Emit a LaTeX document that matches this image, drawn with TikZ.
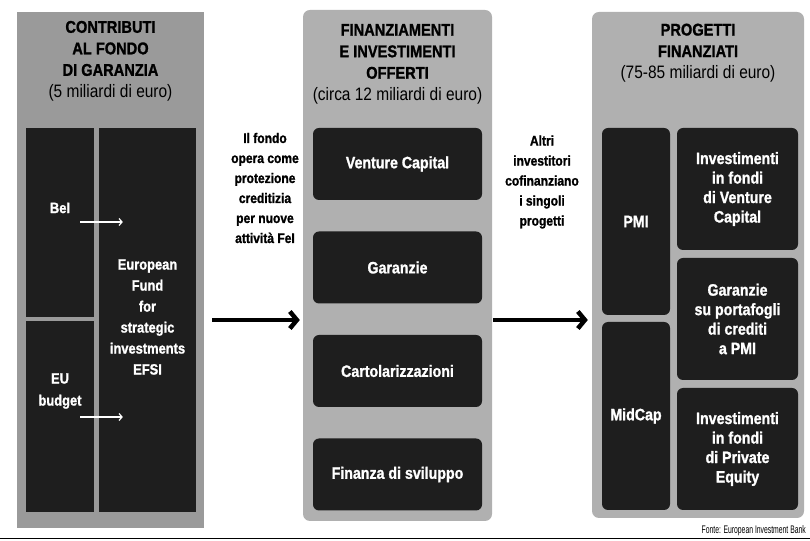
\documentclass[tikz,border=0pt]{standalone}
\usepackage{fontspec}
\setmainfont{Liberation Sans}[FakeStretch=0.86, BoldFeatures={FakeBold=1.2}]
\newfontfamily\narrowfont{Liberation Sans}[FakeStretch=0.62]
\usetikzlibrary{arrows.meta,positioning}

\definecolor{panelgray}{HTML}{B0B0B0}
\definecolor{fundgray}{HTML}{9A9A9A}
\definecolor{boxblack}{HTML}{1E1E1E}

\tikzset{
  panel/.style={fill=panelgray, rounded corners=7pt, inner sep=0pt},
  fundpanel/.style={fill=fundgray, inner sep=0pt},
  darkbox/.style={fill=boxblack, rounded corners=6pt, inner sep=0pt, text=white, align=center,
    font=\bfseries\fontsize{16.5}{19.5}\selectfont},
  fundbox/.style={fill=boxblack, inner sep=0pt},
  fundtext/.style={text=white, align=center, inner sep=0pt, font=\bfseries\fontsize{15}{21}\selectfont},
  heading/.style={align=center, inner sep=0pt, font=\fontsize{17}{21.5}\selectfont},
  note/.style={align=center, inner sep=0pt, font=\bfseries\fontsize{14}{20}\selectfont},
  bigarrow/.style={line width=4.5pt, -{Straight Barb[length=7pt,width=17pt]}},
  smallarrow/.style={white, line width=1.2pt, -{Straight Barb[length=3pt,width=7pt]}}
}
\newcommand{\subhead}[1]{{\fontsize{18}{24}\selectfont #1}}

\begin{document}
\begin{tikzpicture}[x=1pt,y=1pt]
    \useasboundingbox (0,0) rectangle (810,540);

    % Contributi al fondo
    \node[fundpanel, minimum width=187pt, minimum height=516pt] (fund) at (110.5,270) {};
    \node[heading] (fundtitle) at (110.5,479)
      {\textbf{CONTRIBUTI}\\\textbf{AL FONDO}\\\textbf{DI GARANZIA}\\\subhead{(5 miliardi di euro)}};
    \node[fundbox, minimum width=68pt, minimum height=189pt] (bei) at (60,317.5) {};
    \node[fundbox, minimum width=68pt, minimum height=191pt] (eub) at (60,123.5) {};
    \node[fundbox, minimum width=97pt, minimum height=384pt] (efsi) at (147.5,220) {};
    \node[fundtext] (beitext) at (60,332) {BeI};
    \node[fundtext, font=\bfseries\fontsize{15}{22}\selectfont] (eubtext) at (60,149) {EU\\budget};
    \node[fundtext] (efsitext) at (147.5,223)
      {European\\Fund\\for\\strategic\\investments\\EFSI};

    % frecce interne
    \coordinate (beiarr) at (80,318);
    \coordinate (eubarr) at (80,123);
    \draw[smallarrow] (beiarr) -- ([xshift=24pt]efsi.west |- beiarr);
    \draw[smallarrow] (eubarr) -- ([xshift=24pt]efsi.west |- eubarr);

    % Finanziamenti e investimenti
    \node[panel, minimum width=189pt, minimum height=511pt] (mid) at (397.5,274.5) {};
    \node[heading] (midtitle) at (397.5,476)
      {\textbf{FINANZIAMENTI}\\\textbf{E INVESTIMENTI}\\\textbf{OFFERTI}\\\subhead{(circa 12 miliardi di euro)}};
    \node[darkbox, minimum width=169pt, minimum height=72pt] (venture) at (397.5,376) {Venture Capital};
    \node[darkbox, minimum width=169pt, minimum height=72pt] (garanzie) at (397.5,272.5) {Garanzie};
    \node[darkbox, minimum width=169pt, minimum height=72pt] (cartol) at (397.5,169) {Cartolarizzazioni};
    \node[darkbox, minimum width=169pt, minimum height=72pt] (sviluppo) at (397.5,65.5) {Finanza di sviluppo};

    % Progetti finanziati
    \node[panel, minimum width=212pt, minimum height=506pt] (proj) at (698,275) {};
    \node[heading] (projtitle) at (698,487)
      {\textbf{PROGETTI}\\\textbf{FINANZIATI}\\\subhead{(75-85 miliardi di euro)}};
    \node[darkbox, minimum width=68pt, minimum height=187pt] (pmi) at (636,318.5) {PMI};
    \node[darkbox, minimum width=68pt, minimum height=188pt] (midcap) at (636,124) {MidCap};
    \node[darkbox, minimum width=121pt, minimum height=122pt] (vcfondi) at (737.5,351)
      {Investimenti\\in fondi\\di Venture\\Capital};
    \node[darkbox, minimum width=121pt, minimum height=122pt] (portaf) at (737.5,221)
      {Garanzie\\su portafogli\\di crediti\\a PMI};
    \node[darkbox, minimum width=121pt, minimum height=122pt] (pefondi) at (737.5,91)
      {Investimenti\\in fondi\\di Private\\Equity};

    % Testi tra i pannelli
    \node[note] (fondonote) at (265,352)
      {Il fondo\\opera come\\protezione\\creditizia\\per nuove\\attività FeI};
    \node[note] (altrinote) at (542,358)
      {Altri\\investitori\\cofinanziano\\i singoli\\progetti};

    % Frecce principali
    \coordinate (flowrow) at (0,220);
    \draw[bigarrow, shorten <=8pt, shorten >=3pt] (fund.east |- flowrow) -- (mid.west |- flowrow);
    \draw[bigarrow, shorten <=1pt, shorten >=4pt] (mid.east |- flowrow) -- (proj.west |- flowrow);

    % Fonte
    \node[anchor=base east, inner sep=0pt, font=\narrowfont\fontsize{11}{13}\selectfont] (fonte) at (806,6)
      {Fonte: European Investment Bank};
    \draw[line width=1pt] (0,1.5) -- (810,1.5);
\end{tikzpicture}
\end{document}
